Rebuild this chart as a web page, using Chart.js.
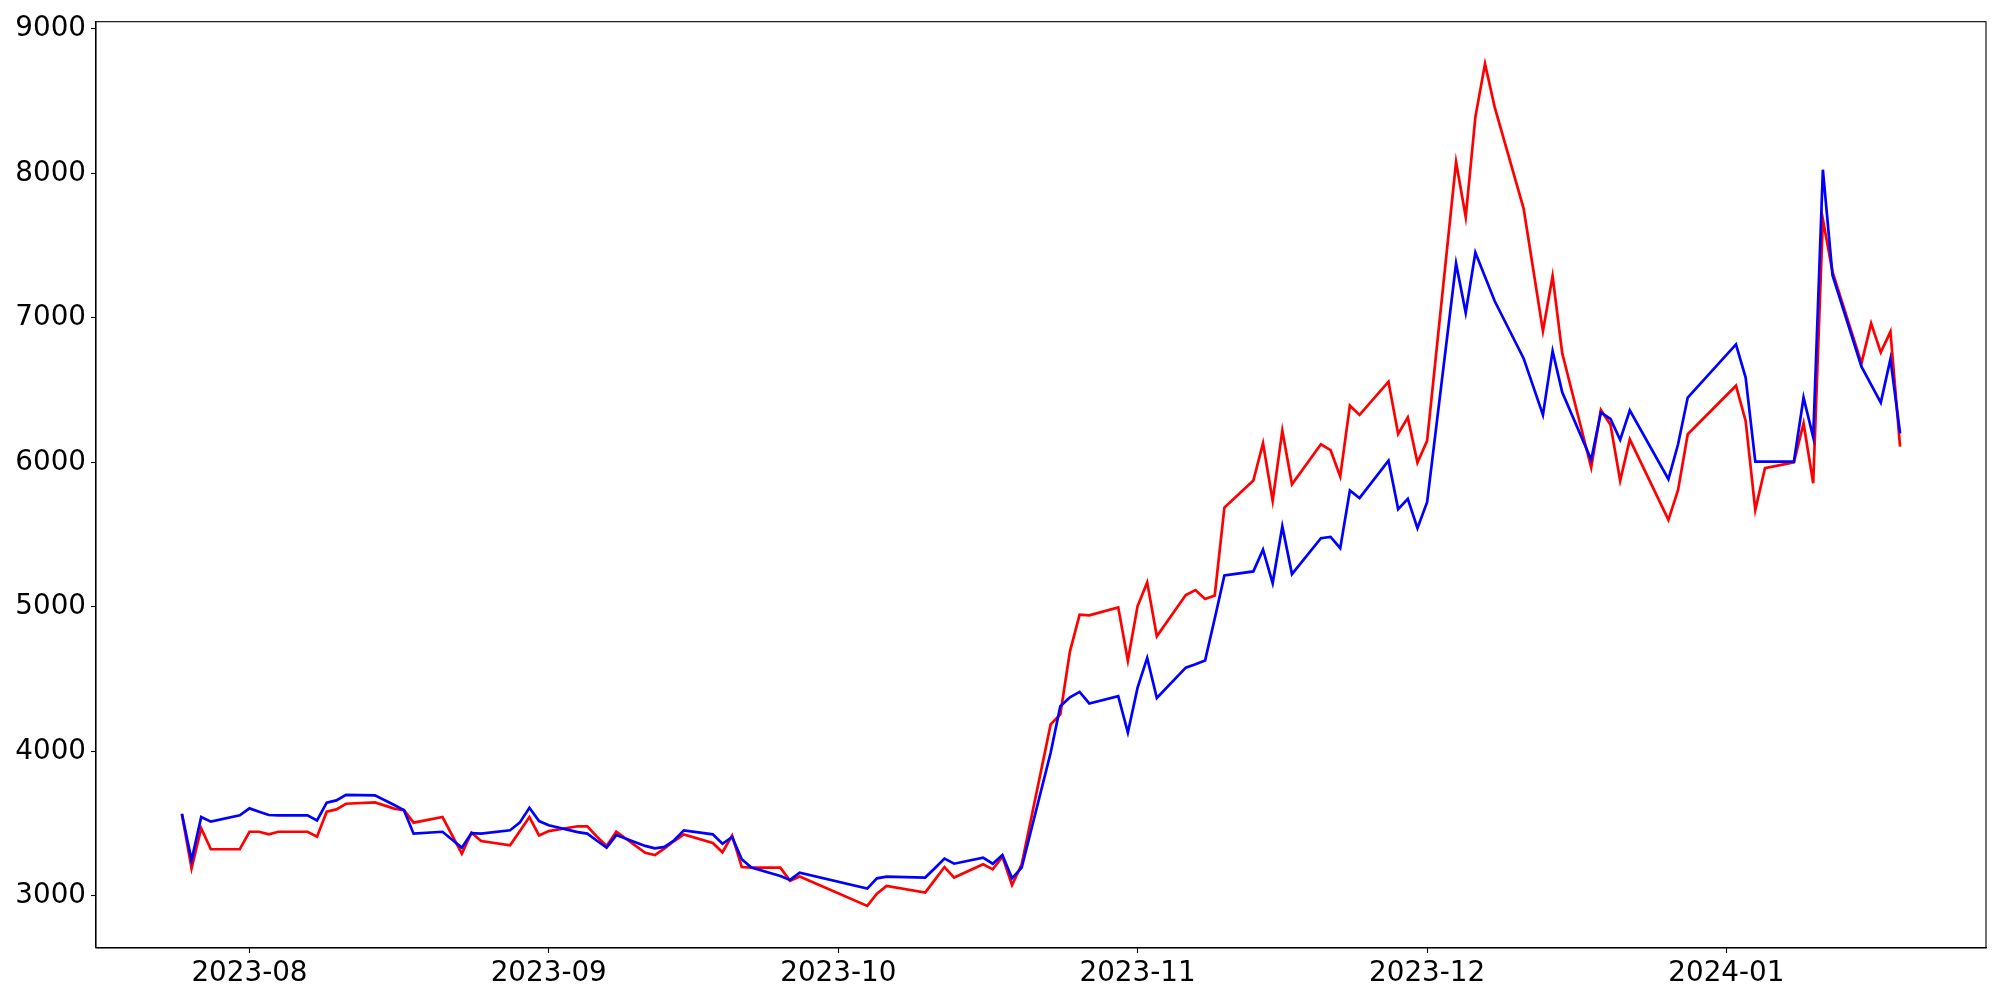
<!DOCTYPE html>
<html>
<head>
<meta charset="utf-8">
<script src="https://cdn.jsdelivr.net/npm/chart.js@4.4.0/dist/chart.umd.min.js"></script>
<style>
  html, body { margin: 0; padding: 0; background: #fff; }
  #wrap { width: 2000px; height: 1000px; }
</style>
</head>
<body>
<div id="wrap"><canvas id="myChart" width="2000" height="1000"></canvas></div>
<script>
// Торговые дни
const dates = [
  '2023-07-25','2023-07-26','2023-07-27','2023-07-28','2023-07-31',
  '2023-08-01','2023-08-02','2023-08-03','2023-08-04','2023-08-07','2023-08-08','2023-08-09','2023-08-10','2023-08-11',
  '2023-08-14','2023-08-16','2023-08-17','2023-08-18','2023-08-21','2023-08-22','2023-08-23','2023-08-24','2023-08-25',
  '2023-08-28','2023-08-29','2023-08-30','2023-08-31',
  '2023-09-01','2023-09-04','2023-09-05','2023-09-06','2023-09-07','2023-09-08','2023-09-11','2023-09-12','2023-09-13',
  '2023-09-14','2023-09-15','2023-09-18','2023-09-19','2023-09-20','2023-09-21','2023-09-22','2023-09-25','2023-09-26','2023-09-27',
  '2023-10-04','2023-10-05','2023-10-06','2023-10-10','2023-10-11','2023-10-12','2023-10-13','2023-10-16','2023-10-17',
  '2023-10-18','2023-10-19','2023-10-20','2023-10-23','2023-10-24','2023-10-25','2023-10-26','2023-10-27','2023-10-30','2023-10-31',
  '2023-11-01','2023-11-02','2023-11-03','2023-11-06','2023-11-07','2023-11-08','2023-11-09','2023-11-10','2023-11-13',
  '2023-11-14','2023-11-15','2023-11-16','2023-11-17','2023-11-20','2023-11-21','2023-11-22','2023-11-23','2023-11-24',
  '2023-11-27','2023-11-28','2023-11-29','2023-11-30',
  '2023-12-01','2023-12-04','2023-12-05','2023-12-06','2023-12-07','2023-12-08','2023-12-11','2023-12-12','2023-12-13',
  '2023-12-14','2023-12-15','2023-12-18','2023-12-19','2023-12-20','2023-12-21','2023-12-22','2023-12-26','2023-12-27','2023-12-28',
  '2024-01-02','2024-01-03','2024-01-04','2024-01-05','2024-01-08','2024-01-09','2024-01-10','2024-01-11','2024-01-12',
  '2024-01-15','2024-01-16','2024-01-17','2024-01-18','2024-01-19'
];

// Красная линия
const redValues = [
  3565, 3191, 3468, 3323, 3323,
  3444, 3444, 3426, 3444, 3444, 3410, 3583, 3599, 3638,
  3647, 3604, 3594, 3507, 3546, 3419, 3292, 3437, 3380,
  3350, 3448, 3546, 3419,
  3449, 3482, 3482, 3410, 3346, 3444, 3299, 3283, 3329,
  3380, 3426, 3366, 3302, 3417, 3200, 3196, 3196, 3104, 3134,
  2931, 3016, 3069, 3023, 3111, 3200, 3127, 3219, 3184,
  3272, 3075, 3219, 4187, 4256, 4693, 4946, 4942, 4997, 4629,
  5004, 5170, 4797, 5083, 5117, 5055, 5079, 5688, 5875,
  6133, 5735, 6221, 5849, 6126, 6085, 5903, 6393, 6329,
  6559, 6197, 6312, 5999,
  6149, 8079, 7699, 8390, 8759, 8459, 7757, 7333, 6909,
  7289, 6755, 5965, 6363, 6260, 5873, 6160, 5603, 5810, 6195,
  6531, 6287, 5672, 5960, 6001, 6271, 5856, 7683, 7319,
  6686, 6962, 6762, 6905, 6110
];

// Синяя линия
const blueValues = [
  3569, 3247, 3546, 3514, 3558,
  3606, 3583, 3560, 3558, 3558, 3523, 3645, 3661, 3700,
  3696, 3629, 3594, 3431, 3444, 3389, 3334, 3435, 3431,
  3454, 3507, 3610, 3518,
  3489, 3442, 3431, 3382, 3334, 3421, 3346, 3329, 3339,
  3385, 3454, 3426, 3361, 3408, 3254, 3196, 3138, 3111, 3161,
  3051, 3122, 3134, 3127, 3191, 3258, 3223, 3265, 3223,
  3283, 3122, 3196, 3991, 4313, 4375, 4412, 4332, 4382, 4131,
  4440, 4647, 4370, 4580, 4603, 4629, 4920, 5218, 5246,
  5396, 5165, 5557, 5227, 5476, 5485, 5407, 5806, 5753,
  6013, 5677, 5748, 5545,
  5725, 7377, 7036, 7453, 7285, 7117, 6720, 6525, 6329,
  6771, 6485, 6018, 6346, 6301, 6156, 6360, 5884, 6126, 6449,
  6817, 6587, 6006, 6006, 6006, 6449, 6174, 8026, 7296,
  6663, 6538, 6414, 6716, 6201
];

// Подписи осей
const xTickLabels = ['2023-08', '2023-09', '2023-10', '2023-11', '2023-12', '2024-01'];
const yTicks = [3000, 4000, 5000, 6000, 7000, 8000, 9000];

function toTime(s) {
  const p = s.split('-').map(Number);
  return Date.UTC(p[0], p[1] - 1, p[2] || 1);
}

const times = dates.map(toTime);
const redPoints = times.map((t, i) => ({ x: t, y: redValues[i] }));
const bluePoints = times.map((t, i) => ({ x: t, y: blueValues[i] }));

// поля как в matplotlib (5%)
const tSpan = times[times.length - 1] - times[0];
const allVals = redValues.concat(blueValues);
const vMin = Math.min(...allVals), vMax = Math.max(...allVals);
const vSpan = vMax - vMin;

const font = { family: '"DejaVu Sans", sans-serif', size: 27.8 };

// рамка вокруг области графика
const framePlugin = {
  id: 'frame',
  afterDraw(chart) {
    const { ctx, chartArea: a } = chart;
    ctx.save();
    ctx.strokeStyle = '#000';
    ctx.lineWidth = 1.1;
    ctx.strokeRect(a.left, a.top, a.right - a.left, a.bottom - a.top);
    ctx.restore();
  }
};

const axisGrid = { drawOnChartArea: false, drawTicks: true, tickLength: 5, tickColor: '#000', tickWidth: 1.1 };

new Chart(document.getElementById('myChart').getContext('2d'), {
  type: 'line',
  data: {
    datasets: [
      { data: redPoints, borderColor: '#ff0000', borderWidth: 2.7, pointRadius: 0, tension: 0, order: 2 },
      { data: bluePoints, borderColor: '#0000ff', borderWidth: 2.7, pointRadius: 0, tension: 0, order: 1 }
    ]
  },
  options: {
    responsive: false,
    animation: false,
    devicePixelRatio: 1,
    layout: { padding: { left: 0, right: 14, top: 20, bottom: 0 } },
    plugins: { legend: { display: false }, tooltip: { enabled: false } },
    scales: {
      x: {
        type: 'linear',
        min: times[0] - 0.05 * tSpan,
        max: times[times.length - 1] + 0.05 * tSpan,
        afterBuildTicks: axis => { axis.ticks = xTickLabels.map(l => ({ value: toTime(l) })); },
        afterFit: axis => { axis.height = 52; },
        ticks: {
          autoSkip: false, maxRotation: 0, color: '#000', font: font, padding: 4,
          callback: (v, i) => xTickLabels[i]
        },
        grid: axisGrid,
        border: { display: true, color: '#000', width: 1.1 }
      },
      y: {
        min: vMin - 0.05 * vSpan,
        max: vMax + 0.05 * vSpan,
        afterBuildTicks: axis => { axis.ticks = yTicks.map(v => ({ value: v })); },
        afterFit: axis => { axis.width = 96; },
        ticks: { color: '#000', font: font, padding: 5, callback: v => String(v) },
        grid: axisGrid,
        border: { display: true, color: '#000', width: 1.1 }
      }
    }
  },
  plugins: [framePlugin]
});
</script>
</body>
</html>
